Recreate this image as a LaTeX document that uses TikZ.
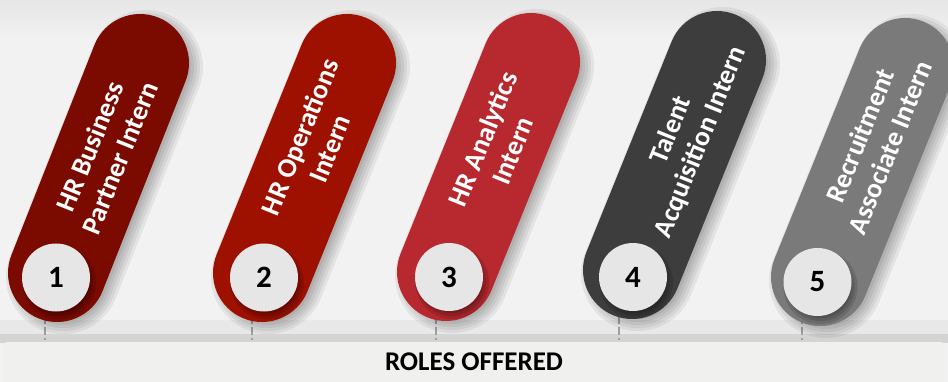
\documentclass[tikz,border=0pt]{standalone}
\usepackage{fontspec}
\setmainfont{Carlito}
\usetikzlibrary{calc}
\definecolor{bgmain}{HTML}{F2F2F2}
\definecolor{bgtop}{HTML}{E6E6E6}
\definecolor{bandlight}{HTML}{E8E8E8}
\definecolor{banddark}{HTML}{D4D4D4}
\definecolor{boxfill}{HTML}{F0F0EE}
\definecolor{tickgray}{HTML}{A0A0A0}
\definecolor{discfill}{HTML}{E6E6E6}
\definecolor{pillA}{HTML}{7B0A00}
\definecolor{pillB}{HTML}{9E1000}
\definecolor{pillC}{HTML}{B8292F}
\definecolor{pillD}{HTML}{3D3D3D}
\definecolor{pillE}{HTML}{7A7A7A}
\tikzset{
  pilltext/.style={text=white, font=\bfseries\fontsize{27.5}{32}\selectfont, align=center, rotate=68, inner sep=0pt},
  numtext/.style={font=\bfseries\fontsize{31}{32}\selectfont, text=black, inner sep=0pt},
  tickline/.style={draw=tickgray, line width=2pt, dash pattern=on 8pt off 3pt},
  pillbody/.style={line width=98pt, line cap=round},
  pillshadow/.style={line cap=round, black, opacity=0.06},
  discshadow/.style={fill=black, opacity=0.13},
}
\newcommand{\rolepill}[9]{%
  \coordinate (#1a) at (#2);
  \coordinate (#1b) at (#3);
  \coordinate (#1d) at (#5);
  \foreach \w in {84,90,96,102,108,114}
    \draw[pillshadow, line width=\w pt] ([xshift=6pt,yshift=-4pt]#1a) -- ([xshift=6pt,yshift=-4pt]#1b);
  \draw[pillbody, draw=#4] (#1a) -- (#1b);
  \foreach \rr in {31,34,37}
    \fill[discshadow] ([xshift=3pt,yshift=-5pt]#1d) circle (\rr pt);
  \node[circle, fill=discfill, minimum size=68pt, inner sep=0pt] (#1disc) at (#1d) {};
  \node[numtext] (#1num) at (#1disc.center) {#6};
  \node[pilltext] (#1txt) at ($(#1a)!#8!(#1b)$) {#7};
}
\begin{document}
\begin{tikzpicture}[x=1pt,y=-1pt]
\useasboundingbox (0,0) rectangle (948,382);
% background
\fill[bgmain] (0,0) rectangle (948,382);
\shade[top color=bgtop, bottom color=bgmain] (0,0) rectangle (948,40);
% bottom bands
\fill[bandlight] (0,320) rectangle (948,334);
\fill[banddark] (0,334) rectangle (948,343);
\fill[boxfill, rounded corners=6pt] (2,342) -- (946,342) -- (946,390) -- (2,390) -- cycle;
% ticks
\foreach \tx in {45,252,436,619,802}
  \draw[tickline] (\tx,316) -- (\tx,340);
% pills
\rolepill{p1}{57,273}{140,63}{pillA}{56,277.5}{1}{HR Business\\Partner Intern}{0.575}{45}
\rolepill{p2}{262,273}{347,63}{pillB}{264,277.5}{2}{HR Operations\\Intern}{0.62}{252}
\rolepill{p3}{446,272}{531,62}{pillC}{449,277}{3}{HR Analytics\\Intern}{0.606}{436}
\rolepill{p4}{632,270}{717,60}{pillD}{633,277}{4}{Talent\\Acquisition Intern}{0.637}{619}
\rolepill{p5}{820,277}{905,67}{pillE}{817.5,282}{5}{Recruitment\\Associate Intern}{0.646}{802}
% footer label
\node[font=\bfseries\fontsize{27}{30}\selectfont, text=black] (roles) at (474,362) {ROLES OFFERED};
\end{tikzpicture}
\end{document}
